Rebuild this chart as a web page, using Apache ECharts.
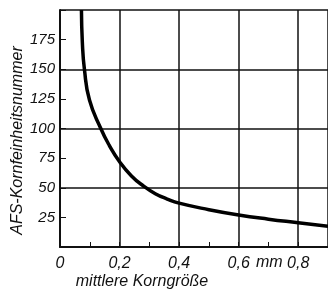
<!DOCTYPE html>
<html>
<head>
<meta charset="utf-8">
<script src="https://cdn.jsdelivr.net/npm/echarts@6/dist/echarts.min.js"></script>
<style>
  html, body { margin: 0; padding: 0; background: #fff; }
  #chart { width: 328px; height: 292px; }
</style>
</head>
<body>
<div id="chart"></div>
<script>
// Korngröße (mm) gegen AFS-Nummer
var korngroesse = [0.072, 0.075, 0.082, 0.099, 0.137, 0.165, 0.2, 0.24, 0.28, 0.32, 0.36, 0.4, 0.5, 0.6, 0.7, 0.8, 0.9];
var afsNummer   = [200,   173,   150,   124,   100,   86,    72,  60,   51.5, 45,   40.5, 37,  31.5, 27, 23.5, 20.5, 17.5];
var yTickLabels = [25, 50, 75, 100, 125, 150, 175];
var xTickLabels = ['0', '0,2', '0,4', '0,6', '0,8'];

var font = 'Liberation Sans';
var ink = '#111';
var chart = echarts.init(document.getElementById('chart'));

var pts = korngroesse.map(function (x, i) { return [x, afsNummer[i]]; });

chart.setOption({
  backgroundColor: '#fff',
  animation: false,
  grid: { left: 60, top: 10, right: 0, bottom: 45, outerBoundsMode: 'none', containLabel: false },
  xAxis: {
    type: 'value', min: 0, max: 0.9, interval: 0.2,
    name: 'mittlere Korngröße', nameLocation: 'middle', nameGap: 27, nameMoveOverlap: false,
    nameTextStyle: { fontFamily: font, fontStyle: 'italic', fontSize: 16, color: ink, padding: [0, 104, 0, 0] },
    axisLine: { lineStyle: { color: ink, width: 2 } },
    axisTick: { inside: true, length: 5, lineStyle: { color: ink, width: 1 } },
    minorTick: { show: true, splitNumber: 2, length: 5, lineStyle: { color: ink, width: 1 } },
    axisLabel: {
      fontFamily: font, fontStyle: 'italic', fontSize: 16, color: ink, margin: 9,
      formatter: function (v) {
        var k = Math.round(v * 5);
        return Math.abs(k * 0.2 - v) < 1e-9 && k <= 4 ? xTickLabels[k] : '';
      }
    },
    splitLine: { show: true, lineStyle: { color: ink, width: 1.5 } }
  },
  yAxis: [{
    type: 'value', min: 0, max: 200, interval: 25,
    name: 'AFS-Kornfeinheitsnummer', nameLocation: 'middle', nameGap: 34, nameMoveOverlap: false,
    nameTextStyle: { fontFamily: font, fontStyle: 'italic', fontSize: 16, color: ink, padding: [0, 24, 0, 0] },
    axisLine: { lineStyle: { color: ink, width: 2 } },
    axisTick: { inside: true, length: 6, lineStyle: { color: ink, width: 1 } },
    axisLabel: {
      fontFamily: font, fontStyle: 'italic', fontSize: 15, color: ink, margin: 5,
      formatter: function (v) { return yTickLabels.indexOf(v) >= 0 ? String(v) : ''; }
    },
    splitLine: { show: false }
  }, {
    // nur Gitterlinien alle 50
    type: 'value', position: 'left', min: 0, max: 200, interval: 50,
    axisLine: { show: false }, axisTick: { show: false }, axisLabel: { show: false },
    splitLine: { show: true, lineStyle: { color: ink, width: 1.5 } }
  }],
  graphic: [
    { type: 'text', left: 256, top: 255,
      style: { text: 'mm', fontFamily: font, fontStyle: 'italic', fontSize: 16, fill: ink } }
  ],
  series: [{
    type: 'line', data: pts, smooth: 0.5, symbol: 'none',
    lineStyle: { color: '#000', width: 3.5 }
  }]
});
</script>
</body>
</html>
